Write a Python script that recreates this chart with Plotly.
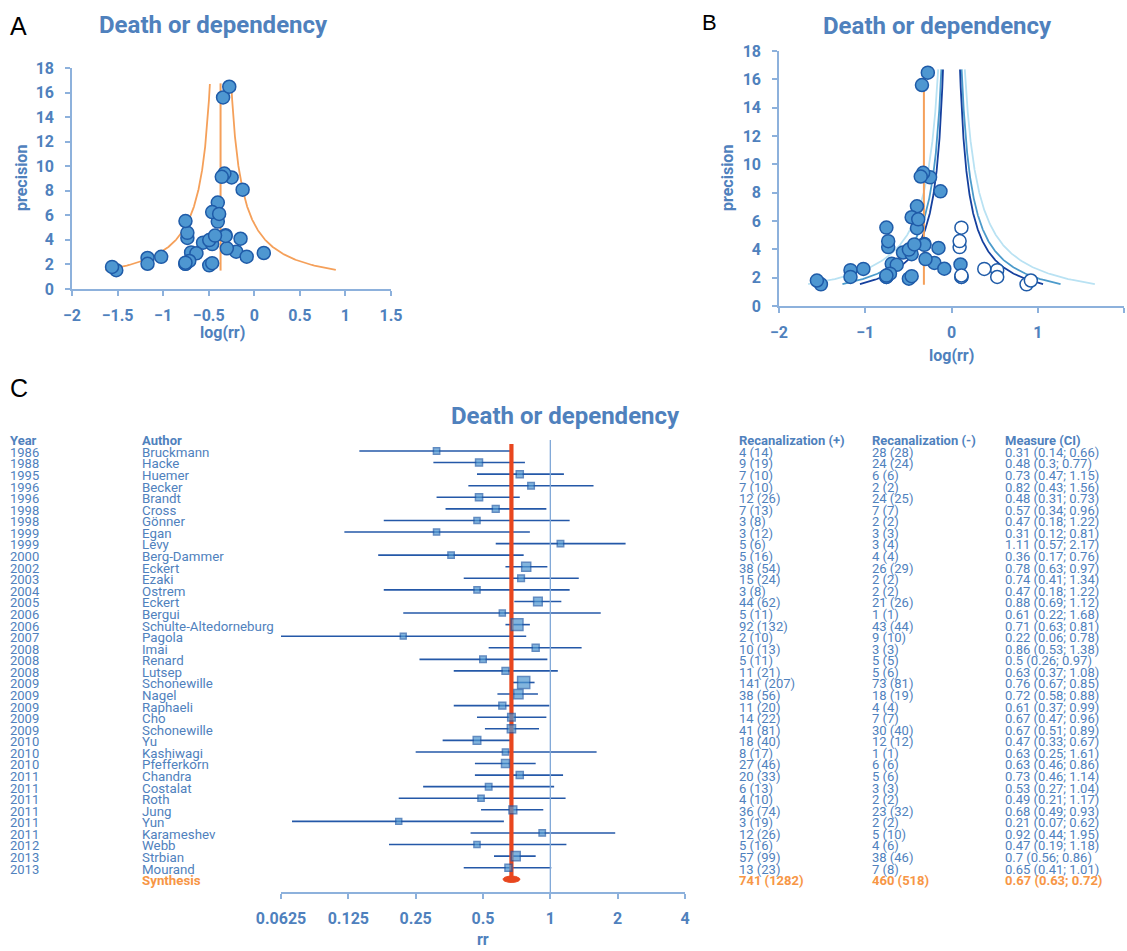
import numpy as np
import plotly.graph_objects as go

W, H = 1127, 951

# ---------------- data ----------------
years = [1986, 1988, 1995, 1996, 1996, 1998, 1998, 1999, 1999, 2000, 2002, 2003, 2004,
         2005, 2006, 2006, 2007, 2008, 2008, 2008, 2009, 2009, 2009, 2009, 2009, 2010,
         2010, 2010, 2011, 2011, 2011, 2011, 2011, 2011, 2012, 2013, 2013]
authors = ["Bruckmann", "Hacke", "Huemer", "Becker", "Brandt", "Cross", "Gönner", "Egan",
           "Levy", "Berg-Dammer", "Eckert", "Ezaki", "Ostrem", "Eckert", "Bergui",
           "Schulte-Altedorneburg", "Pagola", "Imai", "Renard", "Lutsep", "Schonewille",
           "Nagel", "Raphaeli", "Cho", "Schonewille", "Yu", "Kashiwagi", "Pfefferkorn",
           "Chandra", "Costalat", "Roth", "Jung", "Yun", "Karameshev", "Webb", "Strbian",
           "Mourand"]
pos_events = [4, 9, 7, 7, 12, 7, 3, 3, 5, 5, 38, 15, 3, 44, 5, 92, 2, 10, 5, 11, 141, 38,
              11, 14, 41, 18, 8, 27, 20, 6, 4, 36, 3, 12, 5, 57, 13]
pos_total = [14, 19, 10, 10, 26, 13, 8, 12, 6, 16, 54, 24, 8, 62, 11, 132, 10, 13, 11, 21,
             207, 56, 20, 22, 81, 40, 17, 46, 33, 13, 10, 74, 19, 26, 16, 99, 23]
neg_events = [28, 24, 6, 2, 24, 7, 2, 3, 3, 4, 26, 2, 2, 21, 1, 43, 9, 3, 5, 5, 73, 18, 4,
              7, 30, 12, 1, 6, 5, 3, 2, 23, 2, 5, 4, 38, 7]
neg_total = [28, 24, 6, 2, 25, 7, 2, 3, 4, 4, 29, 2, 2, 26, 1, 44, 10, 3, 5, 6, 81, 19, 4,
             7, 40, 12, 1, 6, 6, 3, 2, 32, 2, 10, 6, 46, 8]
rr = [0.31, 0.48, 0.73, 0.82, 0.48, 0.57, 0.47, 0.31, 1.11, 0.36, 0.78, 0.74, 0.47, 0.88,
      0.61, 0.71, 0.22, 0.86, 0.5, 0.63, 0.76, 0.72, 0.61, 0.67, 0.67, 0.47, 0.63, 0.63,
      0.73, 0.53, 0.49, 0.68, 0.21, 0.92, 0.47, 0.7, 0.65]
rr_lo = [0.14, 0.3, 0.47, 0.43, 0.31, 0.34, 0.18, 0.12, 0.57, 0.17, 0.63, 0.41, 0.18, 0.69,
         0.22, 0.63, 0.06, 0.53, 0.26, 0.37, 0.67, 0.58, 0.37, 0.47, 0.51, 0.33, 0.25, 0.46,
         0.46, 0.27, 0.21, 0.49, 0.07, 0.44, 0.19, 0.56, 0.41]
rr_hi = [0.66, 0.77, 1.15, 1.56, 0.73, 0.96, 1.22, 0.81, 2.17, 0.76, 0.97, 1.34, 1.22, 1.12,
         1.68, 0.81, 0.78, 1.38, 0.97, 1.08, 0.85, 0.88, 0.99, 0.96, 0.89, 0.67, 1.61, 0.86,
         1.14, 1.04, 1.17, 0.93, 0.62, 1.95, 1.18, 0.86, 1.01]
synth_label = "Synthesis"
synth_pos = (741, 1282)
synth_neg = (460, 518)
synth_rr, synth_lo, synth_hi = 0.67, 0.63, 0.72

# trim-and-fill imputed studies (panel B, open circles)
imputed_logrr = [0.87, 0.92, 0.53, 0.53, 0.38, 0.115, 0.115, 0.115, 0.115, 0.094, 0.094]
imputed_prec = [1.53, 1.80, 2.53, 2.05, 2.62, 2.05, 2.05, 2.15, 5.53, 4.16, 4.58]

funnel_center_A = -0.37
funnel_center_B = -0.32
prec_min, prec_max = 1.55, 16.7
contour_z = [2.576, 1.96, 1.645]
contour_colors = ["#B9E2F3", "#4C9BCB", "#15409E"]

forest_ticks = [0.0625, 0.125, 0.25, 0.5, 1, 2, 4]
forest_ticktext = ["0.0625", "0.125", "0.25", "0.5", "1", "2", "4"]

# ---------------- styling ----------------
BLUE_TXT = "#4F81BD"
MARK_FILL = "#4E97D1"
MARK_LINE = "#1F5BA8"
ORANGE = "#F5A05A"
AXIS = "#8DB1DC"
RED = "#E8461E"
SYN_TXT = "#F79646"
CI_COL = "#2458A8"
FONT = "Roboto"

logrr = np.log(np.array(rr))
precision = 3.92 / (np.log(np.array(rr_hi)) - np.log(np.array(rr_lo)))
prec_grid = np.linspace(prec_min, prec_max, 300)


def px(x):
    return x / W


def py(y):
    return 1 - y / H


fig = go.Figure()

# ---------------- Panel A ----------------
for sgn in (-1, 1):
    fig.add_trace(go.Scatter(x=funnel_center_A + sgn * 1.96 / prec_grid, y=prec_grid,
                             mode="lines", line=dict(color=ORANGE, width=1.8),
                             xaxis="x", yaxis="y", showlegend=False, hoverinfo="skip"))
fig.add_trace(go.Scatter(x=[funnel_center_A, funnel_center_A], y=[1.5, 16.75], mode="lines",
                         line=dict(color=ORANGE, width=2), xaxis="x", yaxis="y",
                         showlegend=False))
fig.add_trace(go.Scatter(x=logrr, y=precision, mode="markers",
                         marker=dict(size=13, color=MARK_FILL,
                                     line=dict(color=MARK_LINE, width=1.5)),
                         xaxis="x", yaxis="y", showlegend=False))

# ---------------- Panel B ----------------
for z, col in zip(contour_z, contour_colors):
    for sgn in (-1, 1):
        fig.add_trace(go.Scatter(x=sgn * z / prec_grid, y=prec_grid, mode="lines",
                                 line=dict(color=col, width=1.8),
                                 xaxis="x2", yaxis="y2", showlegend=False,
                                 hoverinfo="skip"))
fig.add_trace(go.Scatter(x=[funnel_center_B, funnel_center_B], y=[1.5, 16.15], mode="lines",
                         line=dict(color=ORANGE, width=2), xaxis="x2", yaxis="y2",
                         showlegend=False))
fig.add_trace(go.Scatter(x=logrr, y=precision, mode="markers",
                         marker=dict(size=13, color=MARK_FILL,
                                     line=dict(color=MARK_LINE, width=1.5)),
                         xaxis="x2", yaxis="y2", showlegend=False))
fig.add_trace(go.Scatter(x=imputed_logrr, y=imputed_prec, mode="markers",
                         marker=dict(size=13, color="white",
                                     line=dict(color=MARK_LINE, width=1.5)),
                         xaxis="x2", yaxis="y2", showlegend=False))

# ---------------- Panel C (forest) ----------------
n = len(rr)
rows = np.arange(1, n + 1)
synth_row = n + 1
ci_x, ci_y = [], []
for i in range(n):
    ci_x += [rr_lo[i], rr_hi[i], None]
    ci_y += [rows[i], rows[i], None]
fig.add_trace(go.Scatter(x=ci_x, y=ci_y, mode="lines", line=dict(color=CI_COL, width=1.6),
                         xaxis="x3", yaxis="y3", showlegend=False, hoverinfo="skip"))
fig.add_trace(go.Scatter(x=[1, 1], y=[0.05, 39.1], mode="lines",
                         line=dict(color="#7FA7D8", width=1.3),
                         xaxis="x3", yaxis="y3", showlegend=False, hoverinfo="skip"))
fig.add_trace(go.Scatter(x=[synth_rr, synth_rr], y=[0.4, synth_row], mode="lines",
                         line=dict(color=RED, width=4.2),
                         xaxis="x3", yaxis="y3", showlegend=False, hoverinfo="skip"))
fig.add_trace(go.Scatter(x=rr, y=rows, mode="markers",
                         marker=dict(symbol="square", size=5.2 + 0.42 * precision,
                                     color=MARK_FILL, line=dict(color=MARK_LINE, width=1.5)),
                         xaxis="x3", yaxis="y3", showlegend=False))
t = np.linspace(0, 2 * np.pi, 60)
lc, la = np.log(synth_rr), (np.log(synth_hi) - np.log(synth_lo)) / 2 * 1.3
fig.add_trace(go.Scatter(x=np.exp(lc + la * np.cos(t)), y=synth_row + 0.28 * np.sin(t),
                         mode="lines", fill="toself", fillcolor=RED,
                         line=dict(color=RED, width=1), xaxis="x3", yaxis="y3",
                         showlegend=False, hoverinfo="skip"))

# ---------------- axes ----------------
tickfont = dict(family=FONT, size=16, color=BLUE_TXT, weight="bold")
common = dict(showgrid=False, zeroline=False, showline=True, linecolor=AXIS, linewidth=1.6,
              ticks="outside", ticklen=5, tickcolor=AXIS, tickwidth=1.6, tickfont=tickfont,
              automargin=False)

fig.update_layout(
    width=W, height=H, margin=dict(l=0, r=0, t=0, b=0, autoexpand=False),
    paper_bgcolor="white", plot_bgcolor="white",
    xaxis=dict(domain=[px(72), px(391)], range=[-2, 1.5], dtick=0.5, anchor="y",
               ticklabelstandoff=6, **common),
    yaxis=dict(domain=[py(289), py(68)], range=[0, 18], dtick=2, anchor="x",
               ticklabelstandoff=8, **common),
    xaxis2=dict(domain=[px(779), px(1124)], range=[-2, 2], dtick=1, anchor="y2",
                ticklabelstandoff=6, **common),
    yaxis2=dict(domain=[py(306), py(51)], range=[0, 18], dtick=2, anchor="x2",
                ticklabelstandoff=8, **common),
    xaxis3=dict(domain=[px(281), px(685)], type="log",
                range=[np.log10(0.0625), np.log10(4)], tickvals=forest_ticks,
                ticktext=forest_ticktext, anchor="y3", ticklabelstandoff=6, **common),
    yaxis3=dict(domain=[py(892), py(440)], range=[39.1, 0.05], visible=False,
                anchor="x3", automargin=False),
)

ann = []


def add_text(x, y, s, size=12, color=BLUE_TXT, bold=False, xanchor="left", yref="paper",
             angle=0, family=FONT):
    ann.append(dict(x=x, y=y, xref="paper", yref=yref, text=s, showarrow=False,
                    xanchor=xanchor, yanchor="middle", textangle=angle,
                    font=dict(family=family, size=size, color=color,
                              weight="bold" if bold else "normal")))


# panel labels and titles
add_text(px(8), py(26), "A", size=25, color="black", family="Liberation Sans")
add_text(px(700), py(23), "B", size=22, color="black", family="Liberation Sans")
add_text(px(8), py(388), "C", size=25, color="black", family="Liberation Sans")
add_text(px(213), py(25), "Death or dependency", size=24, bold=True, xanchor="center")
add_text(px(937), py(26), "Death or dependency", size=24, bold=True, xanchor="center")
add_text(px(565), py(416), "Death or dependency", size=24, bold=True, xanchor="center")
add_text(px(222), py(332), "log(rr)", size=16, bold=True, xanchor="center")
add_text(px(951), py(355), "log(rr)", size=16, bold=True, xanchor="center")
add_text(px(483), py(939), "rr", size=16, bold=True, xanchor="center")
add_text(px(22), py(178), "precision", size=16, bold=True, xanchor="center", angle=-90)
add_text(px(728), py(178), "precision", size=16, bold=True, xanchor="center", angle=-90)

# table
col_x = [8, 140, 737, 870, 1003]
col_size = [13, 13.3, 13, 13, 13]
headers = ["Year", "Author", "Recanalization (+)", "Recanalization (-)", "Measure (CI)"]
for cx, h in zip(col_x, headers):
    add_text(px(cx), 0.1, h, size=13, bold=True, yref="y3")
for i in range(n):
    r = rows[i] + 0.12
    cells = [str(years[i]), authors[i], f"{pos_events[i]} ({pos_total[i]})",
             f"{neg_events[i]} ({neg_total[i]})",
             f"{rr[i]:g} ({rr_lo[i]:g}; {rr_hi[i]:g})"]
    for cx, cs, s in zip(col_x, col_size, cells):
        add_text(px(cx), r, s, size=cs, yref="y3")
syn_cells = [synth_label, f"{synth_pos[0]} ({synth_pos[1]})", f"{synth_neg[0]} ({synth_neg[1]})",
             f"{synth_rr:g} ({synth_lo:g}; {synth_hi:g})"]
for cx, cs, s in zip(col_x[1:], col_size[1:], syn_cells):
    add_text(px(cx), synth_row + 0.12, s, size=cs, bold=True, color=SYN_TXT, yref="y3")

fig.update_layout(annotations=ann)
fig.write_html("out.html", config={"displayModeBar": False},
               post_script="document.body.style.margin='0';document.body.style.padding='0';")
